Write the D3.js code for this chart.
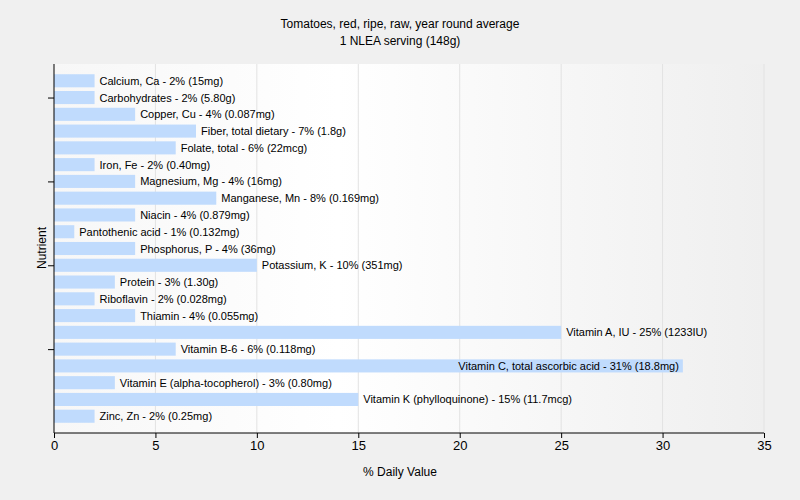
<!DOCTYPE html>
<html>
<head>
<meta charset="utf-8">
<script src="https://cdn.jsdelivr.net/npm/d3@7"></script>
<style>
  body { margin: 0; background: #f0f0f0; }
  text { font-family: "Liberation Sans", Arial, sans-serif; fill: #000; }
</style>
</head>
<body>
<div id="chart"></div>
<script>
// nutrient names, % daily value, and amount text
let nutrients = ["Calcium, Ca", "Carbohydrates", "Copper, Cu", "Fiber, total dietary", "Folate, total",
  "Iron, Fe", "Magnesium, Mg", "Manganese, Mn", "Niacin", "Pantothenic acid", "Phosphorus, P",
  "Potassium, K", "Protein", "Riboflavin", "Thiamin", "Vitamin A, IU", "Vitamin B-6",
  "Vitamin C, total ascorbic acid", "Vitamin E (alpha-tocopherol)", "Vitamin K (phylloquinone)", "Zinc, Zn"];
let dailyValues = [2, 2, 4, 7, 6, 2, 4, 8, 4, 1, 4, 10, 3, 2, 4, 25, 6, 31, 3, 15, 2];
let amounts = ["15mg", "5.80g", "0.087mg", "1.8g", "22mcg", "0.40mg", "16mg", "0.169mg", "0.879mg",
  "0.132mg", "36mg", "351mg", "1.30g", "0.028mg", "0.055mg", "1233IU", "0.118mg", "18.8mg",
  "0.80mg", "11.7mcg", "0.25mg"];
let xTicks = [0, 5, 10, 15, 20, 25, 30, 35];
let yTicks = [2, 7, 12, 17];

let margin = { top: 64, right: 36, bottom: 67, left: 54 };
let width = 800 - margin.left - margin.right;
let height = 500 - margin.top - margin.bottom;

var x = d3.scaleLinear().domain([0, 35]).range([0, width]);
var y = d3.scaleLinear().domain([0, nutrients.length + 1]).range([0, height]);
var barH = y(1) - y(0);

var svg = d3.select("#chart").append("svg")
    .attr("width", 800)
    .attr("height", 500);

var grad = svg.append("defs").append("linearGradient").attr("id", "bg");
grad.append("stop").attr("offset", "0%").attr("stop-color", "#f7f7f7");
grad.append("stop").attr("offset", "40%").attr("stop-color", "#ffffff");
grad.append("stop").attr("offset", "100%").attr("stop-color", "#efefef");

svg.append("text").attr("x", 400).attr("y", 28).attr("text-anchor", "middle")
    .style("font-size", "12px").text("Tomatoes, red, ripe, raw, year round average");
svg.append("text").attr("x", 400).attr("y", 45).attr("text-anchor", "middle")
    .style("font-size", "12px").text("1 NLEA serving (148g)");

var g = svg.append("g")
    .attr("transform", "translate(" + margin.left + "," + margin.top + ")");

g.append("rect").attr("width", width).attr("height", height).attr("fill", "url(#bg)");

// vertical gridlines
g.selectAll(".grid")
    .data(xTicks.slice(1))
    .enter().append("line")
    .attr("x1", d => x(d)).attr("x2", d => x(d))
    .attr("y1", 0).attr("y2", height)
    .attr("stroke", "#e2e2e2");

var rows = nutrients.map((n, i) => ({ name: n, v: dailyValues[i], amt: amounts[i], i: i + 1 }));

g.selectAll(".bar")
    .data(rows)
    .enter().append("rect")
    .attr("x", 0)
    .attr("y", d => y(d.i) - barH * 0.39)
    .attr("width", d => x(d.v))
    .attr("height", barH * 0.78)
    .attr("fill", "#c0dbfd");

g.selectAll(".lbl")
    .data(rows)
    .enter().append("text")
    .style("font-size", "11px")
    .attr("y", d => y(d.i) + 4)
    .text(d => d.name + " - " + d.v + "% (" + d.amt + ")")
    .each(function (d) {
        var w = this.getComputedTextLength();
        var t = d3.select(this);
        if (x(d.v) + 5 + w > width) {
            t.attr("x", x(d.v) - 4).attr("text-anchor", "end");
        } else {
            t.attr("x", x(d.v) + 5);
        }
    });

var xAxis = g.append("g")
    .attr("transform", "translate(0," + height + ")")
    .call(d3.axisBottom(x).tickValues(xTicks).tickSize(5).tickPadding(3));
xAxis.selectAll("text").style("font-size", "13px");

var yAxis = g.append("g")
    .call(d3.axisLeft(y).tickValues(yTicks).tickSize(6).tickFormat(""));

g.selectAll(".domain").attr("stroke", "#000");
g.selectAll(".tick line").attr("stroke", "#000");
yAxis.select(".domain").attr("d", "M0,0V" + height);
xAxis.select(".domain").attr("d", "M0,0H" + width);

svg.append("text").attr("x", 400).attr("y", 476).attr("text-anchor", "middle")
    .style("font-size", "12px").text("% Daily Value");
svg.append("text").attr("transform", "translate(46,248) rotate(-90)").attr("text-anchor", "middle")
    .style("font-size", "12px").text("Nutrient");
</script>
</body>
</html>
